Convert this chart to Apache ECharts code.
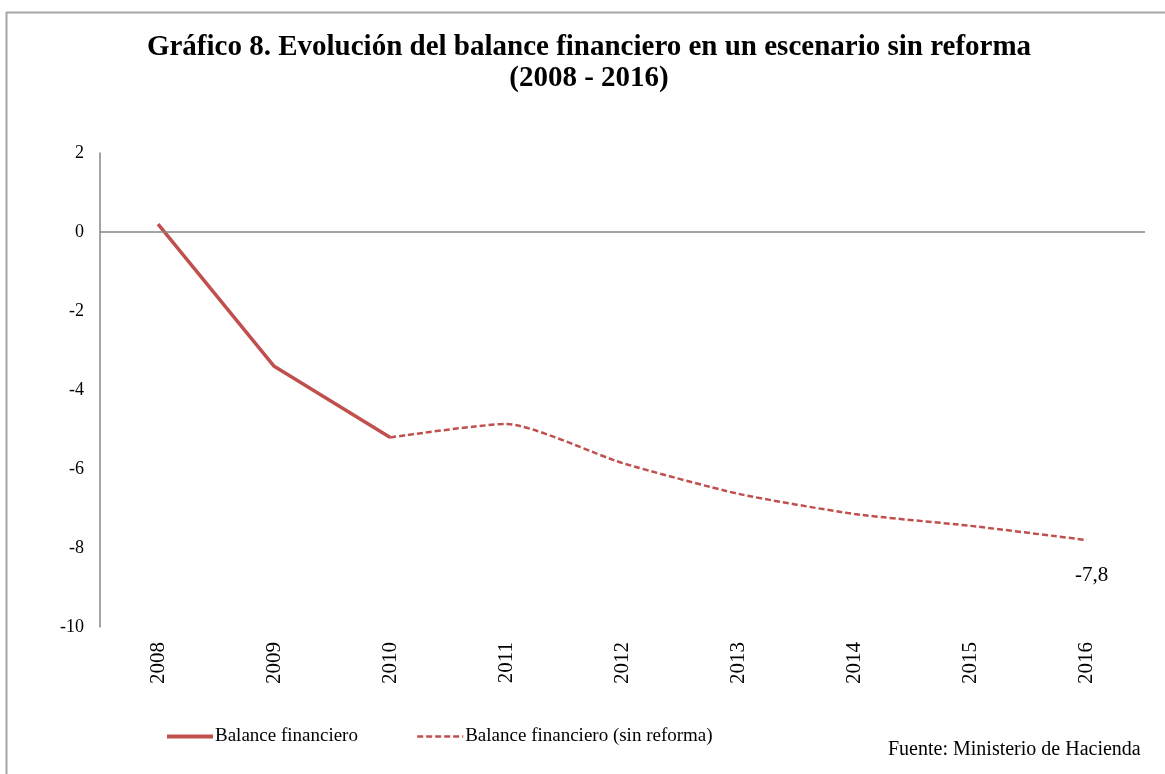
<!DOCTYPE html>
<html>
<head>
<meta charset="utf-8">
<script src="https://cdn.jsdelivr.net/npm/echarts@6/dist/echarts.min.js"></script>
<style>
html, body { margin: 0; padding: 0; background: #fff; }
#main { width: 1165px; height: 774px; }
</style>
</head>
<body>
<div id="main"></div>
<script>
// datos
var years = ['2008', '2009', '2010', '2011', '2012', '2013', '2014', '2015', '2016'];
var balance = [0.2, -3.4, -5.2, null, null, null, null, null, null];
var balanceSinReforma = [null, null, -5.2, -4.86, -5.85, -6.63, -7.14, -7.44, -7.8];
var yTicks = { min: -10, max: 2, interval: 2 };

var serif = "'Liberation Serif', 'Times New Roman', serif";
var lineColor = '#C0504D';
var axisColor = '#868686';

var chart = echarts.init(document.getElementById('main'));
chart.setOption({
    backgroundColor: '#fff',
    animation: false,
    title: {
        text: 'Gráfico 8. Evolución del balance financiero en un escenario sin reforma\n(2008 - 2016)',
        left: 589,
        textAlign: 'center',
        top: 32,
        padding: [0, 0, 0, 0],
        textStyle: { fontFamily: serif, fontSize: 29, fontWeight: 'bold', color: '#000', lineHeight: 31 }
    },
    legend: {
        left: 160,
        top: 722,
        itemWidth: 46,
        itemHeight: 10,
        itemGap: 58,
        itemStyle: { opacity: 0 },
        textStyle: { fontFamily: serif, fontSize: 19, color: '#000', padding: [0, 0, 0, -3] },
        data: [
            { name: 'Balance financiero', lineStyle: { width: 4 } },
            { name: 'Balance financiero (sin reforma)', lineStyle: { width: 2.5 } }
        ]
    },
    grid: { left: 100, right: 20, top: 153, bottom: 147 },
    xAxis: {
        type: 'category',
        data: years,
        boundaryGap: true,
        axisLine: { show: false, onZero: false },
        axisTick: { show: false },
        axisLabel: {
            rotate: 90,
            margin: 15,
            fontFamily: serif,
            fontSize: 21,
            color: '#000'
        }
    },
    yAxis: {
        type: 'value',
        min: yTicks.min,
        max: yTicks.max,
        interval: yTicks.interval,
        splitLine: { show: false },
        axisLine: { show: true, lineStyle: { color: axisColor, width: 1.5 } },
        axisTick: { show: false },
        axisLabel: { fontFamily: serif, fontSize: 18, color: '#000', margin: 16 }
    },
    graphic: [
        { type: 'line', shape: { x1: 6, y1: 12.5, x2: 1165, y2: 12.5 }, style: { stroke: '#A6A6A6', lineWidth: 2 } },
        { type: 'line', shape: { x1: 6.5, y1: 12, x2: 6.5, y2: 774 }, style: { stroke: '#A6A6A6', lineWidth: 2 } },
        {
            type: 'text', left: 888, top: 740,
            style: { text: 'Fuente: Ministerio de Hacienda', font: '20px ' + serif, fill: '#000' }
        }
    ],
    series: [
        {
            name: 'Balance financiero',
            type: 'line',
            data: balance,
            symbol: 'none',
            lineStyle: { color: lineColor, width: 3.5 },
            itemStyle: { color: lineColor },
            markLine: {
                silent: true,
                symbol: 'none',
                label: { show: false },
                lineStyle: { color: axisColor, width: 1.5, type: 'solid' },
                data: [{ yAxis: 0 }]
            },
            z: 3
        },
        {
            name: 'Balance financiero (sin reforma)',
            type: 'line',
            data: balanceSinReforma,
            symbol: 'none',
            smooth: 0.2,
            lineStyle: { color: lineColor, width: 2.5, type: [6, 3] },
            itemStyle: { color: lineColor },
            endLabel: {
                show: true,
                offset: [-20, 35],
                fontFamily: serif,
                fontSize: 21,
                color: '#000',
                formatter: function (p) {
                    return String(p.value).replace('.', ',');
                }
            },
            z: 3
        }
    ]
});
</script>
</body>
</html>
